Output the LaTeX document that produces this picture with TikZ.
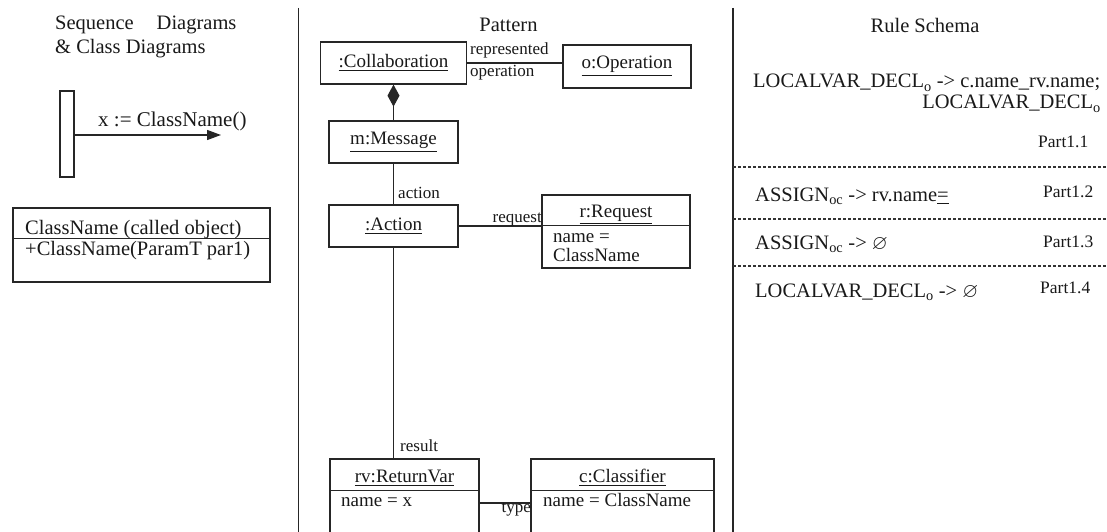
\documentclass[tikz,border=0pt]{standalone}
\usepackage{amssymb}
\usepackage{fontspec}
\setmainfont{Liberation Serif}
\usetikzlibrary{arrows.meta}

\newcommand\txtmain{\fontsize{20.5}{24}\selectfont}
\newcommand\txtbox{\fontsize{19}{22}\selectfont}
\newcommand\txtlbl{\fontsize{17}{20}\selectfont}
\newcommand\txtpart{\fontsize{17.5}{20}\selectfont}

\tikzset{
  ink/.style={draw=black!85, line width=1.3pt},
  objbox/.style={ink, rectangle, inner sep=0pt, text=black!90, font=\txtbox},
  maintext/.style={inner sep=0pt, text=black!90, font=\txtmain},
  boxtext/.style={inner sep=0pt, text=black!90, font=\txtbox},
  lbltext/.style={inner sep=0pt, text=black!90, font=\txtlbl},
  parttext/.style={inner sep=0pt, text=black!90, font=\txtpart},
  sep/.style={ink},
  rulesep/.style={draw=black!80, line width=1.2pt, dash pattern=on 3pt off 2pt},
}

\begin{document}
\begin{tikzpicture}[x=1pt, y=-1pt]
\useasboundingbox (0,0) rectangle (1107,532);
\fill[white] (0,0) rectangle (1107,532);
\clip (0,0) rectangle (1107,532);

% panel dividers
\coordinate (divAtop) at (298.5,8);
\coordinate (divAbot) at (298.5,532);
\coordinate (divBtop) at (733,8);
\coordinate (divBbot) at (733,532);
\draw[ink] (divAtop) -- (divAbot);
\draw[ink] (divBtop) -- (divBbot);

% ---------- left panel: sequence & class diagram ----------
\node[maintext, anchor=base west] (seqhead1) at (55,30) {Sequence\hspace{23pt}Diagrams};
\node[maintext, anchor=base west] (seqhead2) at (55,54) {\& Class Diagrams};

\node[objbox, minimum width=14pt, minimum height=86pt] (act) at (67,134) {};
\coordinate (callend) at (221,135);
\draw[ink, -{Triangle[length=14pt, width=10pt]}] (act.east |- callend) -- (callend);
\node[maintext, anchor=base west, font=\fontsize{21}{24}\selectfont] (callmsg) at (98,126) {x := ClassName()};

\node[objbox, minimum width=257pt, minimum height=74pt] (called) at (141.5,245) {};
\draw[sep] ([yshift=-31pt]called.north west) -- ([yshift=-31pt]called.north east);
\node[maintext, anchor=base west] (calledname) at (25,234) {ClassName (called object)};
\node[maintext, anchor=base west] (calledop) at (25,255) {+ClassName(ParamT par1)};

% ---------- middle panel: pattern ----------
\node[maintext, anchor=base] (pathead) at (508.5,32) {Pattern};

\node[objbox, minimum width=146pt, minimum height=42pt] (collab) at (393.5,63) {\underline{:Collaboration}};
\node[objbox, minimum width=128pt, minimum height=43pt, line width=1.7pt] (oper) at (627,66.5) {\underline{o:Operation}};
\draw[ink] (collab.east) -- (collab.east -| oper.west);
\node[lbltext, anchor=base west] (lblrep) at (470,55) {represented};
\node[lbltext, anchor=base west] (lblop) at (470,77) {operation};

\node[objbox, minimum width=129pt, minimum height=42pt] (msg) at (393.5,142) {\underline{m:Message}};
\draw[ink, -{Diamond[length=22pt, width=12pt]}] (msg.north) -- (collab.south);

\node[objbox, minimum width=129pt, minimum height=42pt] (action) at (393.5,226) {\underline{:Action}};
\draw[ink] (msg.south) -- (action.north);
\node[lbltext, anchor=base west] (lblaction) at (398,198) {action};

\node[objbox, minimum width=148pt, minimum height=73pt] (request) at (616,231.5) {};
\draw[sep] ([yshift=-31pt]request.north west) -- ([yshift=-31pt]request.north east);
\node[boxtext, anchor=base] (reqtitle) at (616,217) {\underline{r:Request}};
\node[boxtext, anchor=base west] (reqattr1) at (553,242) {name =};
\node[boxtext, anchor=base west] (reqattr2) at (553,261) {ClassName};
\draw[ink] (action.east) -- (action.east -| request.west);
\node[lbltext, anchor=base east] (lblrequest) at (542,222) {request};

\node[objbox, minimum width=149pt, minimum height=88pt] (retvar) at (404.5,503) {};
\draw[sep] ([yshift=-32pt]retvar.north west) -- ([yshift=-32pt]retvar.north east);
\node[boxtext, anchor=base] (rvtitle) at (404.5,482) {\underline{rv:ReturnVar}};
\node[boxtext, anchor=base west] (rvattr) at (341,506) {name = x};
\draw[ink] (action.south) -- (action.south |- retvar.north);
\node[lbltext, anchor=base west] (lblresult) at (400,451) {result};

\node[objbox, minimum width=183pt, minimum height=88pt] (classifier) at (622.5,503) {};
\draw[sep] ([yshift=-32pt]classifier.north west) -- ([yshift=-32pt]classifier.north east);
\node[boxtext, anchor=base] (cltitle) at (622.5,482) {\underline{c:Classifier}};
\node[boxtext, anchor=base west] (clattr) at (543,506) {name = ClassName};
\draw[ink] (retvar.east) -- (classifier.west);
\node[lbltext, anchor=base east] (lbltype) at (531,512) {type};

% ---------- right panel: rule schema ----------
\node[maintext, anchor=base] (rulehead) at (925,33) {Rule Schema};

\node[maintext, anchor=base west] (rule1a) at (753,88) {LOCALVAR\_DECL\textsubscript{o} -> c.name\_rv.name;};
\node[maintext, anchor=base east] (rule1b) at (1101,109) {LOCALVAR\_DECL\textsubscript{o}};
\node[parttext, anchor=base west] (part11) at (1038,147) {Part1.1};

\coordinate (sepAleft) at (733,167);
\coordinate (sepAright) at (1107,167);
\draw[rulesep] (sepAleft) -- (sepAright);

\node[maintext, anchor=base west] (rule2) at (755,201) {ASSIGN\textsubscript{oc} -> rv.name\underline{=}};
\node[parttext, anchor=base west] (part12) at (1043,197) {Part1.2};

\coordinate (sepBleft) at (733,219);
\coordinate (sepBright) at (1107,219);
\draw[rulesep] (sepBleft) -- (sepBright);

\node[maintext, anchor=base west] (rule3) at (755,249) {ASSIGN\textsubscript{oc} -> $\varnothing$};
\node[parttext, anchor=base west] (part13) at (1043,247) {Part1.3};

\coordinate (sepCleft) at (733,266);
\coordinate (sepCright) at (1107,266);
\draw[rulesep] (sepCleft) -- (sepCright);

\node[maintext, anchor=base west] (rule4) at (755,297) {LOCALVAR\_DECL\textsubscript{o} -> $\varnothing$};
\node[parttext, anchor=base west] (part14) at (1040,293) {Part1.4};
\end{tikzpicture}
\end{document}
